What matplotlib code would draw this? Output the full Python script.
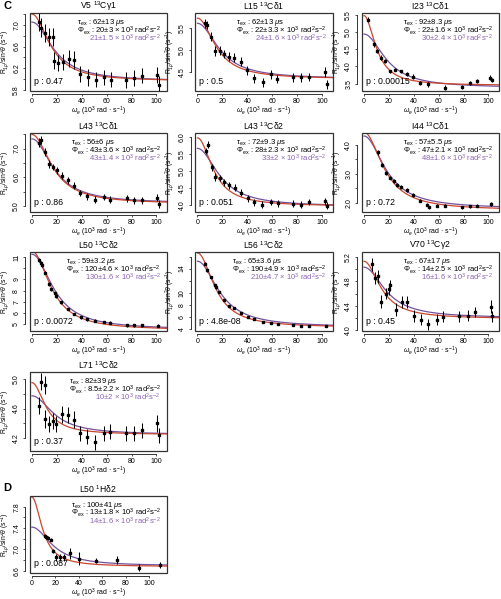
import numpy as np
import matplotlib.pyplot as plt
from matplotlib.patches import Rectangle

plt.rcParams['font.family'] = ['Liberation Sans', 'DejaVu Sans']
plt.rcParams['mathtext.fontset'] = 'custom'
plt.rcParams['mathtext.rm'] = 'Liberation Sans'
plt.rcParams['mathtext.it'] = 'Liberation Sans:italic'
plt.rcParams['mathtext.bf'] = 'Liberation Sans:bold'

# ---- data (omega_e in 10^3 rad/s, R1rho/sin^2 theta in 1/s) ----
w_v5 = [5.6, 7.5, 10.1, 13.3, 16.8, 17.3, 20.8, 25.1, 29.6, 34.1, 38.9, 44.8, 51.2, 58.1, 63.2, 75.7, 82.1, 88.5, 100.8, 101.9]
r_v5 = [7.05, 6.95, 6.85, 6.78, 6.78, 6.34, 6.30, 6.32, 6.38, 6.35, 6.10, 6.03, 5.99, 6.03, 5.99, 5.99, 6.02, 6.06, 6.08, 5.90]
e_v5 = [0.17, 0.18, 0.17, 0.16, 0.16, 0.16, 0.15, 0.15, 0.15, 0.16, 0.15, 0.15, 0.14, 0.14, 0.14, 0.15, 0.14, 0.14, 0.15, 0.15]

w_l15 = [6.2, 8.0, 11.0, 14.2, 17.7, 21.2, 25.5, 29.5, 35.0, 40.0, 45.8, 52.3, 59.2, 64.0, 77.0, 83.4, 89.8, 102.7, 103.7]
r_l15 = [5.60, 5.55, 5.30, 4.97, 4.98, 4.91, 4.85, 4.83, 4.74, 4.55, 4.37, 4.28, 4.46, 4.35, 4.39, 4.39, 4.40, 4.50, 4.23]
e_l15 = [0.10, 0.09, 0.10, 0.11, 0.10, 0.10, 0.10, 0.10, 0.11, 0.10, 0.10, 0.10, 0.10, 0.09, 0.10, 0.10, 0.09, 0.11, 0.10]

w_i23 = [3.5, 8.0, 10.7, 13.7, 16.9, 20.9, 24.9, 29.8, 34.9, 39.7, 45.0, 51.7, 65.0, 78.5, 85.0, 91.0, 101.0, 102.7]
r_i23 = [5.36, 4.64, 4.45, 4.26, 4.17, 3.86, 3.91, 3.86, 3.79, 3.71, 3.53, 3.48, 3.39, 3.40, 3.52, 3.57, 3.67, 3.61]
e_i23 = [0.07, 0.07, 0.06, 0.06, 0.06, 0.05, 0.05, 0.05, 0.06, 0.06, 0.06, 0.06, 0.06, 0.06, 0.05, 0.06, 0.07, 0.06]

w_l43a = [5.9, 7.5, 10.1, 13.3, 16.8, 20.0, 24.0, 28.8, 33.6, 38.9, 44.3, 51.0, 58.0, 63.0, 76.0, 82.0, 88.5, 100.8, 101.9]
r_l43a = [7.21, 7.29, 6.88, 6.46, 6.36, 6.25, 6.05, 5.90, 5.71, 5.46, 5.35, 5.23, 5.32, 5.23, 5.27, 5.21, 5.21, 5.30, 5.07]
e_l43a = [0.14, 0.14, 0.13, 0.13, 0.12, 0.12, 0.12, 0.12, 0.12, 0.12, 0.12, 0.12, 0.12, 0.12, 0.12, 0.12, 0.12, 0.13, 0.13]

w_l43b = [7.0, 8.8, 11.5, 14.2, 17.7, 21.4, 25.5, 29.8, 35.0, 40.2, 45.8, 52.0, 59.2, 64.3, 77.0, 83.4, 89.8, 102.7, 103.7]
r_l43b = [5.59, 5.78, 5.11, 4.82, 4.79, 4.67, 4.58, 4.51, 4.36, 4.19, 4.08, 4.00, 4.08, 4.05, 4.03, 4.00, 4.08, 4.10, 3.98]
e_l43b = [0.10, 0.11, 0.11, 0.11, 0.10, 0.10, 0.10, 0.10, 0.10, 0.10, 0.10, 0.10, 0.09, 0.10, 0.10, 0.10, 0.09, 0.10, 0.10]

w_i44 = [11.0, 14.2, 17.4, 20.9, 24.4, 26.3, 29.8, 34.9, 39.7, 45.0, 51.0, 52.3, 58.4, 65.0, 78.5, 85.0, 91.0, 102.0]
r_i44 = [3.74, 3.29, 3.02, 2.87, 2.75, 2.61, 2.55, 2.44, 2.28, 2.08, 1.94, 1.85, 1.91, 1.91, 1.85, 1.88, 1.91, 1.96]
e_i44 = [0.08, 0.07, 0.07, 0.06, 0.06, 0.06, 0.06, 0.06, 0.06, 0.06, 0.06, 0.06, 0.05, 0.05, 0.05, 0.05, 0.05, 0.06]

w_l50 = [5.6, 6.9, 8.0, 10.1, 13.3, 15.5, 18.1, 19.5, 23.5, 28.8, 33.6, 39.5, 44.3, 51.0, 58.0, 63.0, 76.0, 82.0, 88.5, 101.3]
r_l50 = [10.75, 10.50, 10.30, 9.60, 8.60, 8.10, 7.75, 7.50, 6.95, 6.35, 5.90, 5.60, 5.45, 5.30, 5.20, 5.12, 4.90, 4.88, 4.88, 4.86]
e_l50 = [0.16, 0.16, 0.15, 0.15, 0.15, 0.15, 0.14, 0.14, 0.14, 0.13, 0.13, 0.13, 0.13, 0.12, 0.12, 0.12, 0.12, 0.12, 0.12, 0.13]

w_l56 = [6.2, 8.0, 10.7, 13.7, 14.7, 16.9, 21.4, 25.5, 29.5, 35.1, 40.2, 45.8, 52.3, 59.2, 64.3, 77.0, 83.4, 89.8, 103.2]
r_l56 = [14.8, 13.7, 12.6, 11.25, 10.9, 10.15, 8.78, 7.85, 7.40, 6.58, 5.98, 5.65, 5.20, 4.93, 4.82, 4.66, 4.55, 4.55, 4.44]
e_l56 = [0.25, 0.22, 0.20, 0.20, 0.20, 0.18, 0.16, 0.15, 0.14, 0.13, 0.12, 0.12, 0.12, 0.11, 0.11, 0.11, 0.11, 0.11, 0.12]

w_v70 = [6.2, 8.8, 11.5, 13.7, 17.4, 20.1, 20.9, 25.5, 30.3, 34.9, 40.2, 45.6, 51.7, 59.0, 63.8, 76.7, 83.4, 89.3, 102.0, 102.7]
r_v70 = [5.08, 4.86, 4.88, 4.47, 4.60, 4.68, 4.74, 4.34, 4.46, 4.46, 4.23, 4.17, 4.10, 4.17, 4.22, 4.23, 4.24, 4.30, 4.39, 4.23]
e_v70 = [0.11, 0.10, 0.10, 0.10, 0.09, 0.10, 0.09, 0.10, 0.10, 0.10, 0.10, 0.09, 0.09, 0.09, 0.09, 0.09, 0.09, 0.08, 0.10, 0.09]

w_l71 = [5.6, 7.5, 10.1, 10.7, 13.6, 16.8, 19.5, 24.3, 28.8, 33.6, 38.9, 44.3, 51.0, 57.6, 63.0, 75.7, 82.0, 88.5, 100.8, 101.9]
r_l71 = [4.64, 4.96, 4.92, 4.46, 4.39, 4.43, 4.39, 4.52, 4.51, 4.45, 4.27, 4.22, 4.15, 4.27, 4.29, 4.27, 4.27, 4.31, 4.40, 4.24]
e_l71 = [0.12, 0.11, 0.12, 0.12, 0.11, 0.11, 0.11, 0.11, 0.11, 0.11, 0.10, 0.10, 0.10, 0.10, 0.10, 0.10, 0.10, 0.10, 0.11, 0.10]

w_h50 = [10.8, 12.2, 13.6, 15.9, 17.9, 20.2, 23.6, 27.3, 32.1, 39.8, 54.8, 72.7, 90.9, 108.8]
r_h50 = [7.26, 7.23, 7.22, 7.18, 6.97, 6.85, 6.85, 6.85, 6.93, 6.83, 6.79, 6.80, 6.66, 6.71]
e_h50 = [0.03, 0.03, 0.03, 0.03, 0.04, 0.06, 0.06, 0.06, 0.10, 0.12, 0.05, 0.07, 0.07, 0.05]

titles = ['V5 $^{13}$Cγ1', 'L15 $^{13}$Cδ1', 'I23 $^{13}$Cδ1',
          'L43 $^{13}$Cδ1', 'L43 $^{13}$Cδ2', 'I44 $^{13}$Cδ1',
          'L50 $^{13}$Cδ2', 'L56 $^{13}$Cδ2', 'V70 $^{13}$Cγ2',
          'L71 $^{13}$Cδ2', 'L50 $^{1}$Hδ2']
omega = [w_v5, w_l15, w_i23, w_l43a, w_l43b, w_i44, w_l50, w_l56, w_v70, w_l71, w_h50]
rates = [r_v5, r_l15, r_i23, r_l43a, r_l43b, r_i44, r_l50, r_l56, r_v70, r_l71, r_h50]
errs = [e_v5, e_l15, e_i23, e_l43a, e_l43b, e_i44, e_l50, e_l56, e_v70, e_l71, e_h50]

# fit parameters (tau in us, phi in 10^3 rad^2 s^-2)
tau_ex = [62, 62, 92, 56, 72, 57, 59, 65, 67, 82, 100]
phi_ex = [20, 22, 22, 43, 28, 47, 120, 190, 14, 8.5, 13]
phi_glob = [21, 24, 30, 43, 33, 48, 130, 210, 16, 10, 14]
tau_glob = 52
r_inf = [5.96, 4.35, 3.45, 5.08, 3.96, 1.75, 4.45, 4.25, 4.19, 4.25, 6.68]
r_inf_glob = [5.96, 4.35, 3.38, 5.10, 3.95, 1.80, 4.50, 4.30, 4.20, 4.25, 6.69]

tau_txt = ['62±13', '62±13', '92±8.3', '56±6', '72±9.3', '57±5.5', '59±3.2', '65±3.6', '67±17', '82±39', '100±41']
phi_txt = ['20±3', '22±3.3', '22±1.6', '43±3.6', '28±2.3', '47±2.1', '120±4.6', '190±4.9', '14±2.5', '8.5±2.2', '13±1.8']
glob_txt = ['21±1.5', '24±1.6', '30±2.4', '43±1.4', '33±2', '48±1.6', '130±1.6', '210±4.7', '16±1.6', '10±2', '14±1.6']
p_txt = ['0.47', '0.5', '0.00015', '0.86', '0.051', '0.72', '0.0072', '4.8e-08', '0.45', '0.37', '0.087']

yticks = [[5.8, 6.0, 6.2, 6.4, 6.6, 6.8, 7.0, 7.2],
          [4.5, 5.0, 5.5],
          [3.5, 4.0, 4.5, 5.0, 5.5],
          [5.0, 5.5, 6.0, 6.5, 7.0, 7.5],
          [4.0, 4.5, 5.0, 5.5, 6.0],
          [2.0, 2.5, 3.0, 3.5, 4.0],
          [5, 6, 7, 8, 9, 10, 11],
          [4, 6, 8, 10, 12, 14, 16],
          [4.0, 4.2, 4.4, 4.6, 4.8, 5.0, 5.2],
          [4.2, 4.4, 4.6, 4.8, 5.0],
          [6.6, 6.8, 7.0, 7.2, 7.4, 7.6, 7.8]]
ylabels = [['5.8', '', '6.2', '', '6.6', '', '7.0', ''],
           ['4.5', '5.0', '5.5'],
           ['3.5', '4.0', '4.5', '5.0', '5.5'],
           ['5.0', '', '6.0', '', '7.0', ''],
           ['4.0', '4.5', '5.0', '5.5', '6.0'],
           ['2.0', '', '3.0', '', '4.0'],
           ['5', '6', '7', '8', '9', '', '11'],
           ['4', '6', '8', '10', '', '14', ''],
           ['4.0', '', '4.4', '', '4.8', '', '5.2'],
           ['4.2', '', '4.6', '', '5.0'],
           ['6.6', '', '7.0', '', '7.4', '', '7.8']]
ylims = [(5.78, 7.22), (4.08, 5.83), (3.29, 5.55), (4.80, 7.54), (3.79, 6.12), (1.69, 4.40),
         (4.38, 11.46), (3.67, 16.75), (3.99, 5.28), (4.03, 5.09), (6.56, 8.00)]

# ---- layout in pixels ----
W, H = 501, 599
COLS = [(29.5, 167.0), (195.0, 332.5), (361.5, 499.0)]
ROWS = [(13.0, 91.0), (133.0, 212.0), (252.0, 331.0), (372.0, 451.0), (496.0, 573.0)]
RED = '#c9462e'
PURPLE = '#74529e'
PURPLE_TXT = '#8a63b2'
AXC = '#333333'


def fit_curve(w, rinf, tau, phi):
    wt = w * tau * 1e-3
    return rinf + phi * tau * 1e-3 / (1 + wt ** 2)


fig = plt.figure(figsize=(W / 100, H / 100), dpi=100)

for i in range(11):
    col, row = (i % 3, i // 3) if i < 10 else (0, 4)
    l, r = COLS[col]
    t, b = ROWS[row]
    ax = fig.add_axes([l / W, 1 - b / H, (r - l) / W, (b - t) / H])
    xmax = 115 if i == 10 else 108.5
    ax.set_xlim(-2.0, xmax)
    ax.set_ylim(ylims[i])

    wf = np.linspace(0, xmax, 300)
    ax.plot(wf, fit_curve(wf, r_inf_glob[i], tau_glob, phi_glob[i]), color=PURPLE, lw=0.9, zorder=2)
    ax.plot(wf, fit_curve(wf, r_inf[i], tau_ex[i], phi_ex[i]), color=RED, lw=0.9, zorder=3)
    ax.errorbar(omega[i], rates[i], yerr=errs[i], fmt='s', ms=2.0, color='black',
                elinewidth=0.75, capsize=0, zorder=4)

    ax.add_patch(Rectangle((0, 0), 1, 1, transform=ax.transAxes, fill=False, ec=AXC,
                           lw=0.9, clip_on=False, zorder=5))
    ax.spines['top'].set_visible(False)
    ax.spines['right'].set_visible(False)
    ax.spines['left'].set_position(('outward', 2.9))
    ax.spines['bottom'].set_position(('outward', 2.5))
    ax.spines['left'].set_bounds(yticks[i][0], min(yticks[i][-1], ylims[i][1]))
    ax.spines['bottom'].set_bounds(0, 100)
    for s in ['left', 'bottom']:
        ax.spines[s].set_color(AXC)
        ax.spines[s].set_linewidth(0.7)

    yt = [v for v in yticks[i] if v <= ylims[i][1]]
    ax.set_xticks([0, 20, 40, 60, 80, 100])
    ax.set_yticks(yt)
    ax.set_yticklabels(ylabels[i][:len(yt)], rotation=90, va='center')
    ax.tick_params(length=1.6, width=0.6, labelsize=5.0, color=AXC)
    ax.tick_params(axis='x', pad=0.6)
    ax.tick_params(axis='y', pad=2.2)

    ax.set_title(titles[i], fontsize=6.2, pad=2.5)
    ax.set_xlabel(r'$\omega_e$ (10$^3$ rad · s$^{-1}$)', fontsize=5.0, labelpad=0.0)
    ax.set_ylabel(r'R$_{1\rho}$/sin$^2\theta$ (s$^{-1}$)', fontsize=4.9, va='center')
    ax.yaxis.set_label_coords(-0.175, 0.5)

    t2 = ax.text(0.955, 0.745, 'Φ$_{\\mathrm{ex}}$ : ' + phi_txt[i] + ' × 10$^3$ rad$^2$s$^{-2}$',
                 transform=ax.transAxes, ha='right', va='baseline', fontsize=5.5)
    ax.annotate('τ$_{\\mathrm{ex}}$ : ' + tau_txt[i] + ' $\\mu$s', xy=(0, 0.858),
                xycoords=(t2, 'axes fraction'), ha='left', va='baseline', fontsize=5.5)
    ax.annotate(glob_txt[i] + ' × 10$^3$ rad$^2$s$^{-2}$', xy=(1, 0.635),
                xycoords=(t2, 'axes fraction'), ha='right', va='baseline', fontsize=5.5,
                color=PURPLE_TXT)
    ax.text(0.03, 0.09, 'p : ' + p_txt[i], transform=ax.transAxes, ha='left',
            va='baseline', fontsize=6.3)

fig.text(3 / W, 1 - 6 / H, 'C', fontsize=8, fontweight='bold', va='center', ha='left')
fig.text(3 / W, 1 - 488 / H, 'D', fontsize=8, fontweight='bold', va='center', ha='left')

fig.savefig('out.png', dpi=100)
